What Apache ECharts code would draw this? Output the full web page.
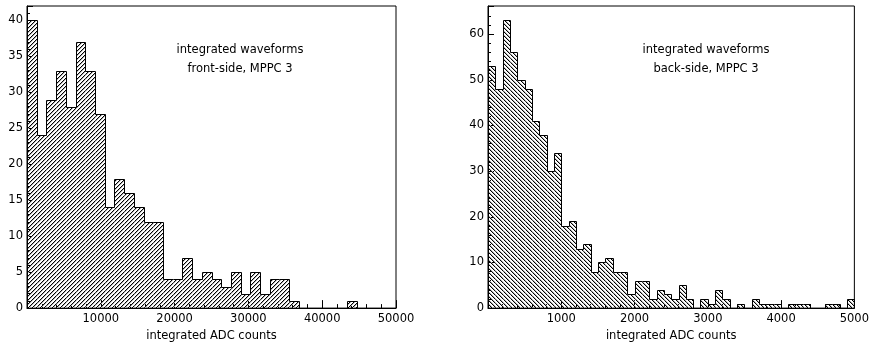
<!DOCTYPE html>
<html>
<head>
<meta charset="utf-8">
<script src="https://cdn.jsdelivr.net/npm/echarts@6/dist/echarts.min.js"></script>
<style>
  html, body { margin: 0; padding: 0; background: #fff; }
  #chart { width: 872px; height: 347px; }
</style>
</head>
<body>
<div id="chart"></div>
<script>
// front-side MPPC 3: 38 equal bins over the x range
const frontRange = [0, 50000];
const frontCounts = [40, 24, 29, 33, 28, 37, 33, 27, 14, 18, 16, 14, 12, 12, 4, 4, 7, 4, 5, 4,
  3, 5, 2, 5, 2, 4, 4, 1, 0, 0, 0, 0, 0, 1, 0, 0, 0, 0];
const frontYMax = 42;

// back-side MPPC 3: 50 equal bins over the x range
const backRange = [0, 5000];
const backCounts = [53, 48, 63, 56, 50, 48, 41, 38, 30, 34, 18, 19, 13, 14, 8, 10, 11, 8, 8, 3,
  6, 6, 2, 4, 3, 2, 5, 2, 0, 2, 1, 4, 2, 0, 1, 0, 2, 1, 1, 1,
  0, 1, 1, 1, 0, 0, 1, 1, 0, 2];
const backYMax = 66.15;

const frontLabel = ["integrated waveforms", "front-side, MPPC 3"];
const backLabel = ["integrated waveforms", "back-side, MPPC 3"];
const xTitle = "integrated ADC counts";

const FONT = "DejaVu Sans";
const FONT_SIZE = 11.5;

// [lo, hi, count, previous count, last flag]
function toBins(counts, range) {
  const w = (range[1] - range[0]) / counts.length;
  return counts.map((c, i) => [
    range[0] + i * w,
    range[0] + (i + 1) * w,
    c,
    i > 0 ? counts[i - 1] : 0,
    i === counts.length - 1 ? 1 : 0,
  ]);
}

// small tile with one diagonal line, dir 1 = "/", -1 = "\"
// a soft grey neighbour pixel makes it look like the antialiased ROOT hatch
function hatch(dir) {
  const c = document.createElement("canvas");
  c.width = 4;
  c.height = 4;
  const g = c.getContext("2d");
  for (let i = 0; i < 4; i++) {
    const y = dir > 0 ? 3 - i : i;
    g.fillStyle = "#000";
    g.fillRect(i, y, 1, 1);
    g.fillStyle = "#b4b4b4";
    g.fillRect((i + 1) % 4, y, 1, 1);
  }
  return { type: "pattern", image: c, repeat: "repeat" };
}

const crisp = (v) => Math.round(v) + 0.5;

function histRenderer(pattern) {
  return function (params, api) {
    const lo = api.value(0), hi = api.value(1), h = api.value(2);
    const prev = api.value(3), last = api.value(4);
    const pTop = api.coord([lo, h]);
    const pEnd = api.coord([hi, 0]);
    const pPrev = api.coord([lo, prev]);
    const x0 = crisp(pTop[0]), x1 = crisp(pEnd[0]);
    const yTop = crisp(pTop[1]), yBase = crisp(pEnd[1]), yPrev = crisp(pPrev[1]);
    const line = { stroke: "#000", lineWidth: 1 };
    const children = [];
    if (h > 0) {
      children.push({
        type: "rect",
        shape: { x: x0, y: yTop, width: x1 - x0, height: yBase - yTop },
        style: { fill: pattern },
      });
    }
    children.push({ type: "line", shape: { x1: x0, y1: yTop, x2: x1, y2: yTop }, style: line });
    children.push({ type: "line", shape: { x1: x0, y1: yPrev, x2: x0, y2: yTop }, style: line });
    if (last) {
      children.push({ type: "line", shape: { x1: x1, y1: yTop, x2: x1, y2: yBase }, style: line });
    }
    return { type: "group", children: children };
  };
}

function xAxisFor(idx, range, interval) {
  return {
    type: "value",
    gridIndex: idx,
    min: range[0],
    max: range[1],
    interval: interval,
    name: xTitle,
    nameLocation: "middle",
    nameGap: 15,
    nameTextStyle: { fontFamily: FONT, fontSize: FONT_SIZE, color: "#000" },
    axisLine: { show: true, onZero: false, lineStyle: { color: "#000", width: 1 } },
    axisTick: { show: true, inside: true, length: 8, lineStyle: { color: "#000" } },
    minorTick: { show: true, splitNumber: 5, length: 4, lineStyle: { color: "#000" } },
    axisLabel: {
      showMinLabel: false,
      margin: 5,
      fontFamily: FONT,
      fontSize: FONT_SIZE,
      color: "#000",
      formatter: (v) => String(v),
    },
    splitLine: { show: false },
  };
}

function yAxisFor(idx, max, interval, minorSplit) {
  return {
    type: "value",
    gridIndex: idx,
    min: 0,
    max: max,
    interval: interval,
    axisLine: { show: true, onZero: false, lineStyle: { color: "#000", width: 1 } },
    axisTick: { show: true, inside: true, length: 6, lineStyle: { color: "#000" } },
    minorTick: { show: true, splitNumber: minorSplit, length: 3, lineStyle: { color: "#000" } },
    axisLabel: {
      showMaxLabel: false,
      margin: 4,
      fontFamily: FONT,
      fontSize: FONT_SIZE,
      color: "#000",
      formatter: (v) => String(v),
    },
    splitLine: { show: false },
  };
}

function labelText(x, y, text) {
  return {
    type: "text",
    x: x,
    y: y,
    style: {
      text: text,
      fontFamily: FONT,
      fontSize: FONT_SIZE,
      fill: "#000",
      align: "center",
      verticalAlign: "middle",
    },
  };
}

const chart = echarts.init(document.getElementById("chart"), null, { renderer: "canvas" });

const option = {
  animation: false,
  backgroundColor: "#fff",
  grid: [
    { left: 27, top: 6, width: 369, height: 307, show: true, borderColor: "#000", borderWidth: 1, backgroundColor: "transparent" },
    { left: 488, top: 6, width: 368, height: 307, show: true, borderColor: "#000", borderWidth: 1, backgroundColor: "transparent" },
  ],
  xAxis: [xAxisFor(0, frontRange, 10000), xAxisFor(1, backRange, 1000)],
  yAxis: [yAxisFor(0, frontYMax, 5, 5), yAxisFor(1, backYMax, 10, 5)],
  series: [
    {
      type: "custom",
      xAxisIndex: 0,
      yAxisIndex: 0,
      renderItem: histRenderer(hatch(1)),
      encode: { x: [0, 1], y: 2 },
      data: toBins(frontCounts, frontRange),
      clip: true,
    },
    {
      type: "custom",
      xAxisIndex: 1,
      yAxisIndex: 1,
      renderItem: histRenderer(hatch(-1)),
      encode: { x: [0, 1], y: 2 },
      data: toBins(backCounts, backRange),
      clip: true,
    },
  ],
  graphic: [
    labelText(240, 50, frontLabel[0]),
    labelText(240, 69, frontLabel[1]),
    labelText(706, 50, backLabel[0]),
    labelText(706, 69, backLabel[1]),
  ],
};

chart.setOption(option);

window.addEventListener("resize", () => {
  chart.resize();
});
</script>
</body>
</html>
